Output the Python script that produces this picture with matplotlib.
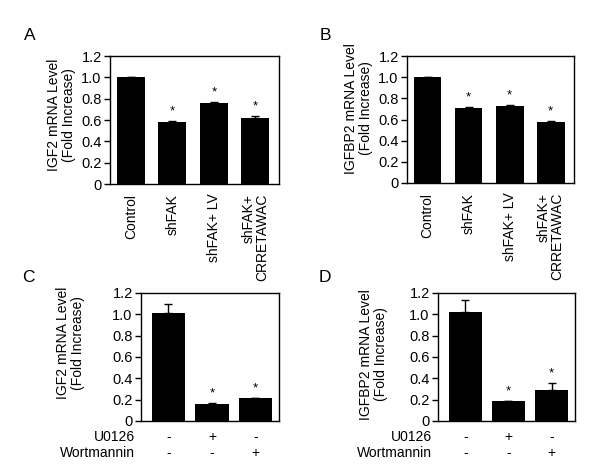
import matplotlib
matplotlib.use("Agg")
import matplotlib.pyplot as plt
import matplotlib.transforms as mtransforms

plt.rcParams["font.family"] = ["Liberation Sans", "DejaVu Sans"]
plt.rcParams["font.size"] = 10

# panel A / B: shFAK experiments
ab_groups = ["Control", "shFAK", "shFAK+ LV", "shFAK+\nCRRETAWAC"]
igf2_ab = [1.0, 0.58, 0.76, 0.62]
igf2_ab_err = [0.0, 0.01, 0.01, 0.02]
igfbp2_ab = [1.0, 0.71, 0.73, 0.58]
igfbp2_ab_err = [0.0, 0.01, 0.01, 0.01]
ab_star = [False, True, True, True]

# panel C / D: inhibitors
u0126 = ["-", "+", "-"]
wortmannin = ["-", "-", "+"]
igf2_cd = [1.01, 0.16, 0.22]
igf2_cd_err = [0.09, 0.01, 0.0]
igfbp2_cd = [1.02, 0.19, 0.29]
igfbp2_cd_err = [0.11, 0.0, 0.07]
cd_star = [False, True, True]

yticks = [0, 0.2, 0.4, 0.6, 0.8, 1.0, 1.2]
ytick_labels = ["0", "0.2", "0.4", "0.6", "0.8", "1.0", "1.2"]

W, H = 600, 467


def px_axes(fig, left, top, right, bottom):
    return fig.add_axes([left / W, (H - bottom) / H, (right - left) / W, (bottom - top) / H])


def draw_bars(ax, values, errs, stars, width, xlim, ylabel, label_xy):
    x = list(range(len(values)))
    ax.bar(x, values, width=width, color="black", zorder=2)
    ax.errorbar(x, values, yerr=[[0] * len(errs), errs], fmt="none",
                ecolor="black", elinewidth=1, capsize=3, capthick=1, zorder=3)
    for xi, v, e, s in zip(x, values, errs, stars):
        if s:
            ax.text(xi, v + e + 0.03, "*", ha="center", va="bottom", fontsize=9.5)
    ax.set_xlim(*xlim)
    ax.set_ylim(0, 1.2)
    ax.set_yticks(yticks)
    ax.set_yticklabels(ytick_labels)
    ax.tick_params(axis="y", direction="out", length=4, width=1, pad=2, labelsize=10.5)
    ax.tick_params(axis="x", length=0)
    for sp in ax.spines.values():
        sp.set_linewidth(1)
    ax.set_ylabel(ylabel, fontsize=10, linespacing=1.1)
    ax.yaxis.set_label_coords(*label_xy)


fig = plt.figure(figsize=(6, 4.67), dpi=100)

axA = px_axes(fig, 110, 56, 279, 184)
draw_bars(axA, igf2_ab, igf2_ab_err, ab_star, 0.68, (-0.5, 3.57),
          "IGF2 mRNA Level\n(Fold Increase)", (-0.2, 0.54))
axA.set_xticks(range(len(ab_groups)))
axA.set_xticklabels(ab_groups, rotation=90, fontsize=10, va="top", ha="center",
                    multialignment="right", linespacing=1.0)
axA.tick_params(axis="x", pad=7)

axB = px_axes(fig, 407, 56, 574, 183)
draw_bars(axB, igfbp2_ab, igfbp2_ab_err, ab_star, 0.68, (-0.5, 3.57),
          "IGFBP2 mRNA Level\n(Fold Increase)", (-0.204, 0.59))
axB.set_xticks(range(len(ab_groups)))
axB.set_xticklabels(ab_groups, rotation=90, fontsize=10, va="top", ha="center",
                    multialignment="right", linespacing=1.0)
axB.tick_params(axis="x", pad=7)

axC = px_axes(fig, 141, 293, 279, 421)
draw_bars(axC, igf2_cd, igf2_cd_err, cd_star, 0.76, (-0.63, 2.54),
          "IGF2 mRNA Level\n(Fold Increase)", (-0.406, 0.61))

axD = px_axes(fig, 438, 293, 575, 421)
draw_bars(axD, igfbp2_cd, igfbp2_cd_err, cd_star, 0.76, (-0.63, 2.54),
          "IGFBP2 mRNA Level\n(Fold Increase)", (-0.365, 0.52))

for ax in (axC, axD):
    ax.set_xticks([])
    trans = mtransforms.blended_transform_factory(ax.transData, ax.transAxes)
    for row_y, name, signs in ((-0.125, "U0126", u0126), (-0.25, "Wortmannin", wortmannin)):
        ax.text(-0.043, row_y, name, transform=ax.transAxes, ha="right", va="center", fontsize=10)
        for xi, s in enumerate(signs):
            ax.text(xi, row_y, s, transform=trans, ha="center", va="center", fontsize=10)

for lab, (lx, ly) in zip("ABCD", [(30, 36), (325, 36), (28, 277), (325, 277)]):
    fig.text(lx / W, 1 - ly / H, lab, fontsize=12.5, ha="center", va="center")

fig.savefig("out.png", dpi=100)
